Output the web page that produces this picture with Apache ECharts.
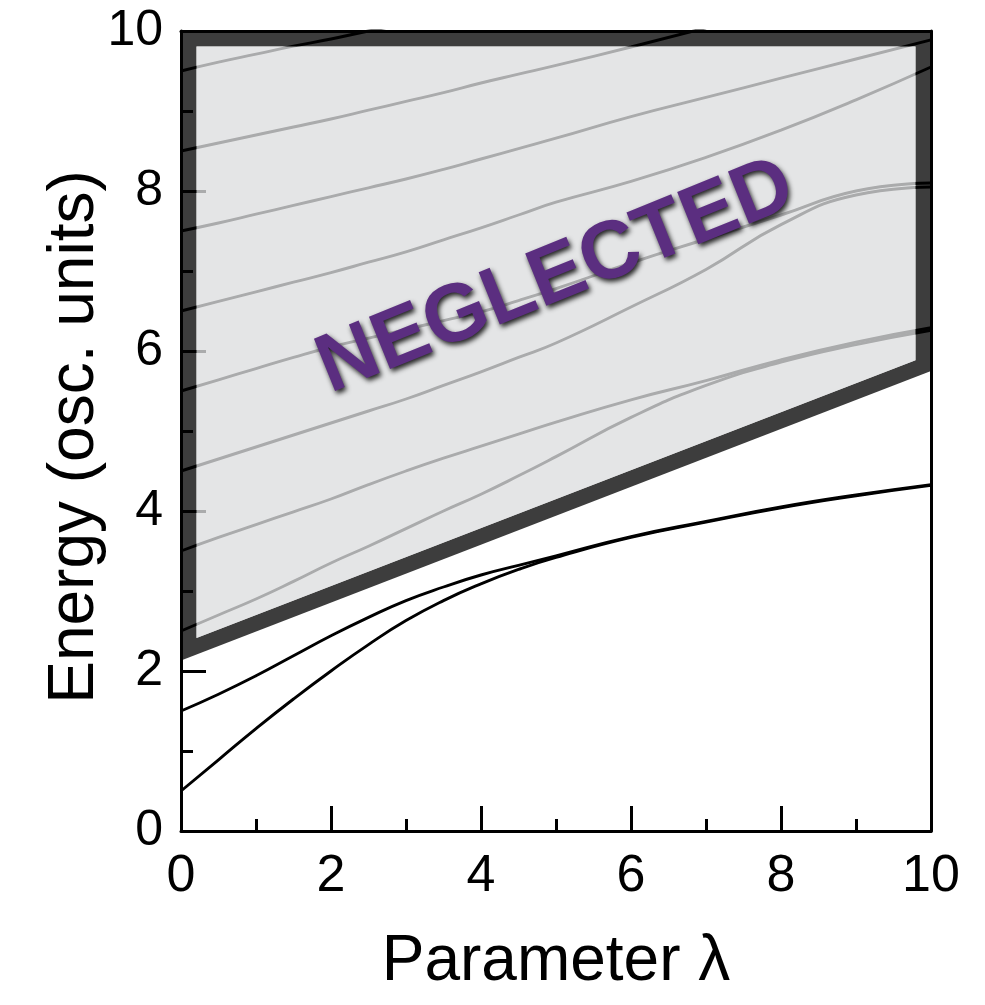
<!DOCTYPE html>
<html>
<head>
<meta charset="utf-8">
<script src="https://cdn.jsdelivr.net/npm/echarts@6/dist/echarts.min.js"></script>
<style>
  html, body { margin: 0; padding: 0; background: #ffffff; }
  #chart { width: 985px; height: 1005px; }
</style>
</head>
<body>
<div id="chart"></div>
<script>
// ---------------- data ----------------
const lambdaValues = [0, 0.5, 1, 1.5, 2, 2.5, 3, 3.5, 4, 4.5, 5, 6, 7, 8, 9, 10];

const level0 = [0.5, 0.89, 1.28, 1.65, 2.0, 2.33, 2.63, 2.88, 3.09, 3.27, 3.42, 3.67, 3.86, 4.04, 4.19, 4.32];
const level1 = [1.5, 1.71, 1.94, 2.19, 2.44, 2.67, 2.88, 3.05, 3.2, 3.32, 3.44, 3.68, 3.87, 4.05, 4.2, 4.33];
const level2 = [2.5, 2.7, 2.9, 3.12, 3.35, 3.56, 3.78, 4.0, 4.21, 4.44, 4.68, 5.17, 5.57, 5.86, 6.08, 6.26];
const level3 = [3.5, 3.67, 3.83, 3.99, 4.15, 4.33, 4.5, 4.66, 4.81, 4.96, 5.11, 5.39, 5.63, 5.89, 6.11, 6.29];
const level4 = [4.5, 4.65, 4.8, 4.95, 5.1, 5.25, 5.4, 5.57, 5.74, 5.92, 6.1, 6.55, 7.02, 7.58, 7.95, 8.05];
const level5 = [5.5, 5.64, 5.78, 5.92, 6.05, 6.16, 6.27, 6.38, 6.49, 6.63, 6.78, 7.1, 7.4, 7.7, 8.0, 8.1];
const level6 = [6.5, 6.62, 6.74, 6.86, 6.98, 7.11, 7.24, 7.39, 7.54, 7.7, 7.86, 8.12, 8.42, 8.76, 9.14, 9.55];
const level7 = [7.5, 7.6, 7.71, 7.82, 7.93, 8.04, 8.15, 8.27, 8.4, 8.53, 8.66, 8.93, 9.17, 9.41, 9.65, 9.89];
const level8 = [8.5, 8.6, 8.7, 8.8, 8.9, 9.01, 9.12, 9.23, 9.35, 9.46, 9.57, 9.8, 10.04, null, null, null];
const level9 = [9.5, 9.61, 9.71, 9.81, 9.9, 10.0, 10.09, null, null, null, null, null, null, null, null, null];

const levels = [level0, level1, level2, level3, level4, level5, level6, level7, level8, level9];

// corners of the neglected region (lambda, energy)
const neglectedRegion = [[0, 2.13], [0, 10], [10, 10], [10, 5.75]];
const neglectedText = 'NEGLECTED';

const xTicks = [0, 2, 4, 6, 8, 10];
const yTicks = [0, 2, 4, 6, 8, 10];
const xTitle = 'Parameter λ';
const yTitle = 'Energy (osc. units)';

// ---------------- chart ----------------
const FONT = "'Liberation Sans', Arial, Helvetica, sans-serif";
const BORDER_W = 15.5;

function insetPolygon(pts, d) {
  const n = pts.length;
  let cx = 0, cy = 0;
  pts.forEach(p => { cx += p[0]; cy += p[1]; });
  cx /= n; cy /= n;
  const lines = [];
  for (let i = 0; i < n; i++) {
    const a = pts[i], b = pts[(i + 1) % n];
    const dx = b[0] - a[0], dy = b[1] - a[1];
    const len = Math.hypot(dx, dy);
    let nx = -dy / len, ny = dx / len;
    const mx = (a[0] + b[0]) / 2, my = (a[1] + b[1]) / 2;
    if ((cx - mx) * nx + (cy - my) * ny < 0) { nx = -nx; ny = -ny; }
    lines.push({ p: [a[0] + nx * d, a[1] + ny * d], v: [dx, dy] });
  }
  const out = [];
  for (let i = 0; i < n; i++) {
    const L1 = lines[(i - 1 + n) % n], L2 = lines[i];
    const cross = L1.v[0] * L2.v[1] - L1.v[1] * L2.v[0];
    const t = ((L2.p[0] - L1.p[0]) * L2.v[1] - (L2.p[1] - L1.p[1]) * L2.v[0]) / cross;
    out.push([L1.p[0] + t * L1.v[0], L1.p[1] + t * L1.v[1]]);
  }
  return out;
}

const chart = echarts.init(document.getElementById('chart'), null, { renderer: 'canvas' });

const levelSeries = levels.map((vals, i) => ({
  type: 'line',
  name: 'level' + i,
  data: lambdaValues.map((x, j) => [x, vals[j]]),
  showSymbol: false,
  symbol: 'none',
  smooth: 0.5,
  connectNulls: false,
  clip: true,
  silent: true,
  z: 2,
  lineStyle: { color: '#000000', width: 2.9 }
}));

const option = {
  backgroundColor: '#ffffff',
  animation: false,
  grid: { left: 181, right: 54, top: 31, bottom: 174, containLabel: false },
  graphic: [{
    type: 'text',
    x: 75, y: 437,
    rotation: Math.PI / 2,
    silent: true,
    style: {
      text: yTitle,
      fill: '#000',
      fontSize: 64,
      fontFamily: FONT,
      align: 'center',
      verticalAlign: 'middle'
    }
  }],
  xAxis: [{
    type: 'value', min: 0, max: 10, interval: 2, position: 'bottom', z: 3,
    name: xTitle, nameLocation: 'middle', nameGap: 99,
    nameMoveOverlap: false,
    nameTextStyle: { fontSize: 64, color: '#000', fontFamily: FONT },
    axisLine: { show: true, onZero: false, lineStyle: { color: '#000', width: 3 } },
    axisTick: { show: true, inside: true, length: 25, lineStyle: { color: '#000', width: 3 } },
    minorTick: { show: true, splitNumber: 2, length: 12, lineStyle: { color: '#000', width: 3 } },
    splitLine: { show: false }, minorSplitLine: { show: false },
    axisLabel: { fontSize: 52, color: '#000', margin: 20, fontFamily: FONT,
      formatter: v => (xTicks.indexOf(v) >= 0 ? String(v) : '') }
  }, {
    type: 'value', min: 0, max: 10, position: 'top', z: 3,
    axisLine: { show: true, onZero: false, lineStyle: { color: '#000', width: 3 } },
    axisTick: { show: false }, axisLabel: { show: false }, splitLine: { show: false }
  }],
  yAxis: [{
    type: 'value', min: 0, max: 10, interval: 2, position: 'left', z: 3,
    axisLine: { show: true, onZero: false, lineStyle: { color: '#000', width: 3 } },
    axisTick: { show: true, inside: true, length: 25, lineStyle: { color: '#000', width: 3 } },
    minorTick: { show: true, splitNumber: 2, length: 12, lineStyle: { color: '#000', width: 3 } },
    splitLine: { show: false }, minorSplitLine: { show: false },
    axisLabel: { fontSize: 50, color: '#000', margin: 18, fontFamily: FONT,
      formatter: v => (yTicks.indexOf(v) >= 0 ? String(v) : '') }
  }, {
    type: 'value', min: 0, max: 10, position: 'right', z: 3,
    axisLine: { show: true, onZero: false, lineStyle: { color: '#000', width: 3 } },
    axisTick: { show: false }, axisLabel: { show: false }, splitLine: { show: false }
  }],
  series: [
    {
      type: 'custom', name: 'regionBorder', z: 1, silent: true,
      data: [[0, 0]],
      renderItem: function (params, api) {
        const outer = neglectedRegion.map(p => api.coord(p));
        const inner = insetPolygon(outer, BORDER_W);
        return {
          type: 'group',
          children: [
            { type: 'polygon', shape: { points: outer }, style: { fill: '#3d3d3d' } },
            { type: 'polygon', shape: { points: inner }, style: { fill: '#ffffff' } }
          ]
        };
      }
    },
    ...levelSeries,
    {
      type: 'custom', name: 'regionOverlay', z: 5, silent: true,
      data: [[0, 0]],
      renderItem: function (params, api) {
        const outer = neglectedRegion.map(p => api.coord(p));
        const inner = insetPolygon(outer, BORDER_W);
        const c = api.coord([5.0, 6.92]);
        return {
          type: 'group',
          children: [
            { type: 'polygon', shape: { points: inner }, style: { fill: 'rgba(220,221,223,0.773)' } },
            {
              type: 'text', x: c[0], y: c[1], rotation: 22 * Math.PI / 180,
              style: {
                text: neglectedText, x: 0, y: 0,
                fill: '#5b2e80',
                fontSize: 82, fontWeight: 'bold', fontFamily: FONT,
                align: 'center', verticalAlign: 'middle',
                textShadowColor: 'rgba(0,0,0,0.85)', textShadowBlur: 5,
                textShadowOffsetX: 2, textShadowOffsetY: 3
              }
            }
          ]
        };
      }
    }
  ]
};

chart.setOption(option);
</script>
</body>
</html>
